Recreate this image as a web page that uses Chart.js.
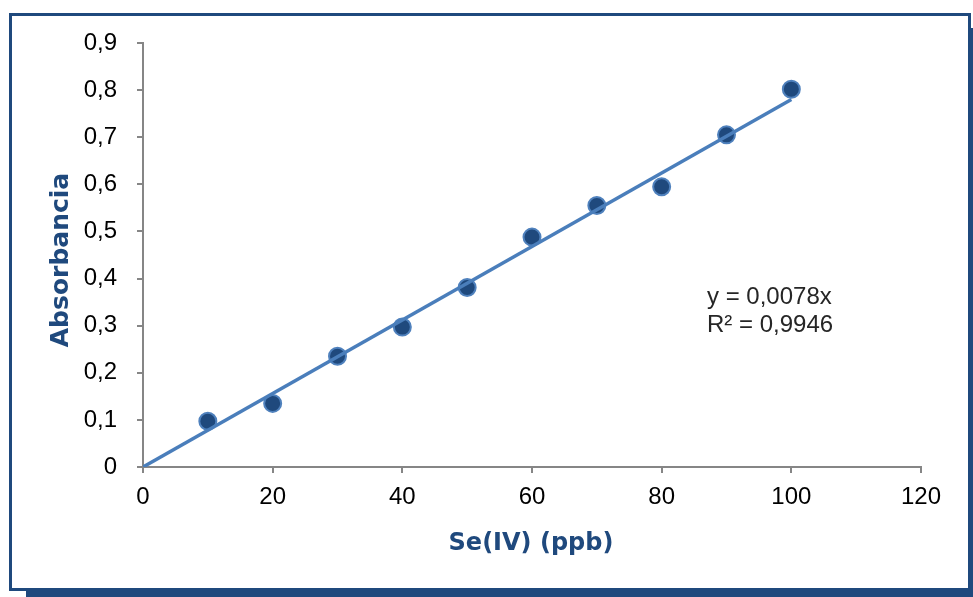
<!DOCTYPE html>
<html>
<head>
<meta charset="utf-8">
<script src="https://cdn.jsdelivr.net/npm/chart.js@4/dist/chart.umd.min.js"></script>
<style>
  html, body { margin: 0; padding: 0; background: #fff; width: 973px; height: 597px; overflow: hidden; }
  #frame { position: absolute; left: 9px; top: 13px; width: 956px; height: 572px;
           border: 3px solid #1F497D; box-shadow: 17px 15px 0 #1F497D; background: #fff; }
  #wrap { position: absolute; left: 0; top: 0; width: 973px; height: 597px; }
</style>
</head>
<body>
<div id="frame"></div>
<div id="wrap"><canvas id="c" width="973" height="597"></canvas></div>
<script>
// Data
const concentrations = [10, 20, 30, 40, 50, 60, 70, 80, 90, 100];
const absorbances   = [0.097, 0.135, 0.235, 0.297, 0.381, 0.488, 0.555, 0.595, 0.705, 0.802];
const trendX = [0, 100];
const trendY = [0, 0.78];
const xTicks = [0, 20, 40, 60, 80, 100, 120];
const yTicks = [0, 0.1, 0.2, 0.3, 0.4, 0.5, 0.6, 0.7, 0.8, 0.9];
const yTickLabels = ['0', '0,1', '0,2', '0,3', '0,4', '0,5', '0,6', '0,7', '0,8', '0,9'];
const equationLines = ['y = 0,0078x', 'R² = 0,9946'];
const xTitle = 'Se(IV) (ppb)';
const yTitle = 'Absorbancia';

const scatterData = concentrations.map((x, i) => ({ x: x, y: absorbances[i] }));
const trendData = trendX.map((x, i) => ({ x: x, y: trendY[i] }));

const tickFont = { family: 'Liberation Sans', size: 24 };
const axisColor = '#868686';

const textPlugin = {
  id: 'texts',
  afterDraw(chart) {
    const ctx = chart.ctx;
    const a = chart.chartArea;
    ctx.save();
    ctx.fillStyle = '#1F497D';
    ctx.font = 'bold 24px "DejaVu Sans"';
    ctx.textAlign = 'center';
    ctx.textBaseline = 'middle';
    ctx.fillText(xTitle, (a.left + a.right) / 2 - 1, 544);
    ctx.translate(61, (a.top + a.bottom) / 2 + 5);
    ctx.rotate(-Math.PI / 2);
    ctx.font = 'bold 25px "DejaVu Sans"';
    ctx.fillText(yTitle, 0, 0);
    ctx.restore();
    ctx.save();
    ctx.fillStyle = '#262626';
    ctx.font = '24px "Liberation Sans"';
    ctx.textAlign = 'left';
    ctx.textBaseline = 'middle';
    ctx.fillText(equationLines[0], 707, 297);
    ctx.fillText(equationLines[1], 707, 325);
    ctx.restore();
  }
};

new Chart(document.getElementById('c'), {
  type: 'scatter',
  data: {
    datasets: [
      {
        type: 'line',
        data: trendData,
        borderColor: '#4A7EBB',
        borderWidth: 3.5,
        pointRadius: 0,
        fill: false,
        tension: 0
      },
      {
        data: scatterData,
        backgroundColor: '#1F497D',
        borderColor: '#4F81BD',
        borderWidth: 2,
        pointRadius: 8.5,
        pointHoverRadius: 8.5
      }
    ]
  },
  options: {
    responsive: false,
    animation: false,
    events: [],
    layout: { padding: { left: 0, right: 52, top: 43, bottom: 0 } },
    plugins: { legend: { display: false }, tooltip: { enabled: false } },
    scales: {
      x: {
        type: 'linear',
        min: 0, max: 120,
        afterBuildTicks(s) { s.ticks = xTicks.map(v => ({ value: v })); },
        afterFit(s) { s.height = 130; },
        ticks: { font: tickFont, color: '#000', padding: 10, maxRotation: 0,
                 callback: v => String(v) },
        grid: { display: true, drawOnChartArea: false, drawTicks: true, tickLength: 6,
                color: axisColor, lineWidth: 2 },
        border: { display: true, color: axisColor, width: 2 }
      },
      y: {
        type: 'linear',
        min: 0, max: 0.9,
        afterBuildTicks(s) { s.ticks = yTicks.map(v => ({ value: v })); },
        afterFit(s) { s.width = 143; },
        ticks: { font: tickFont, color: '#000', padding: 20,
                 callback: (v) => { const i = yTicks.findIndex(t => Math.abs(t - v) < 1e-9); return i >= 0 ? yTickLabels[i] : ''; } },
        grid: { display: true, drawOnChartArea: false, drawTicks: true, tickLength: 6,
                color: axisColor, lineWidth: 2 },
        border: { display: true, color: axisColor, width: 2 }
      }
    }
  },
  plugins: [textPlugin]
});
</script>
</body>
</html>
